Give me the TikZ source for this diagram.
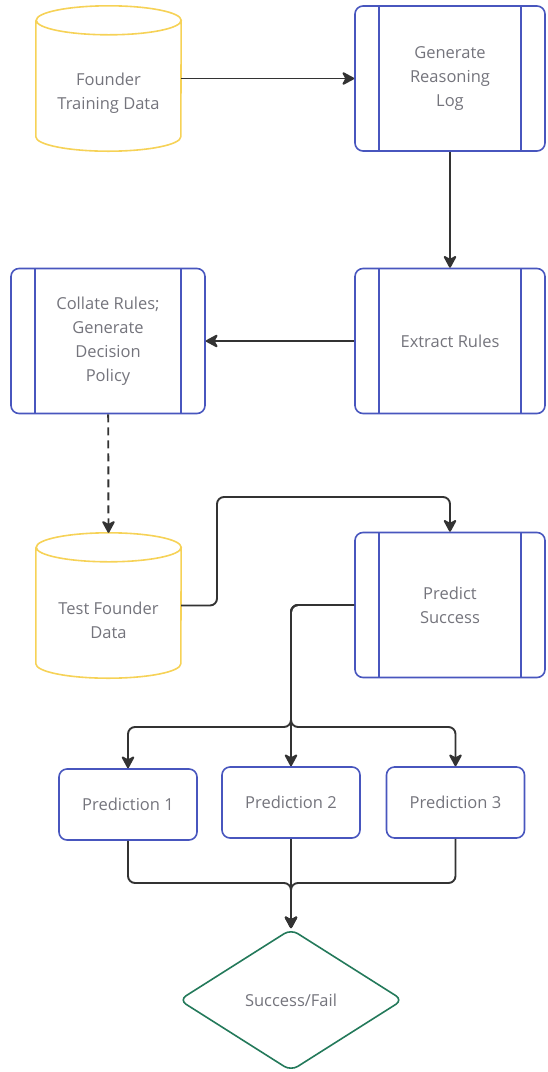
\documentclass[tikz,border=0pt]{standalone}
\usepackage{fontspec}
\setmainfont{Open Sans}
\usepackage{xcolor}
\usetikzlibrary{shapes.geometric,arrows.meta,positioning,calc}

\definecolor{procblue}{HTML}{4856BE}
\definecolor{datayellow}{HTML}{F6D257}
\definecolor{decgreen}{HTML}{23795A}
\definecolor{txtgray}{HTML}{74747C}
\definecolor{linegray}{HTML}{333333}

% cylinder outline round a storedata node
\newcommand{\storecyl}[1]{%
  \draw[datayellow, line width=1.6pt]
    ([yshift=-14.5pt]#1.north west) -- ([yshift=14.5pt]#1.south west)
    arc[start angle=180, end angle=360, x radius=72.5pt, y radius=14.5pt]
    -- ([yshift=-14.5pt]#1.north east)
    arc[start angle=0, end angle=360, x radius=72.5pt, y radius=14.5pt];}

\begin{document}
\begin{tikzpicture}[x=1pt, y=-1pt,
    every node/.style={font=\fontsize{16.5}{24}\selectfont, text=txtgray, align=center},
    procbox/.style={draw=procblue, line width=1.6pt, rounded corners=8pt,
        minimum width=190pt, minimum height=145pt, inner sep=0pt,
        path picture={
            \draw[procblue, line width=1.6pt]
                ([xshift=24pt]path picture bounding box.north west) -- ([xshift=24pt]path picture bounding box.south west)
                ([xshift=-24pt]path picture bounding box.north east) -- ([xshift=-24pt]path picture bounding box.south east);
        }},
    storedata/.style={rectangle, minimum width=145pt, minimum height=145pt, inner sep=0pt},
    datatext/.style={yshift=-15pt, align=center, text=txtgray},
    outbox/.style={draw=procblue, line width=1.6pt, rounded corners=8pt,
        minimum width=138pt, minimum height=71pt},
    decide/.style={diamond, draw=decgreen, line width=1.6pt, rounded corners=8pt,
        minimum width=224pt, minimum height=142pt, inner sep=0pt, aspect=1.6},
    flow/.style={draw=linegray, line width=1.9pt, rounded corners=7pt,
        -{Stealth[length=14pt, width=15pt, inset=4pt, round=false]}}]

    \useasboundingbox (0,0) rectangle (547,1072);

    % training side
    \node[storedata, label={[datatext]center:{Founder\\Training Data}}] (founderdata) at (108.5,78.5) {};
    \storecyl{founderdata}
    \node[procbox] (genlog) at (450,78.5) {Generate\\Reasoning\\Log};
    \node[procbox] (extract) at (450,341) {Extract Rules};
    \node[procbox, minimum width=194pt] (collate) at (108,341) {Collate Rules;\\Generate\\Decision\\Policy};

    % test side
    \node[storedata, label={[datatext]center:{Test Founder\\Data}}] (testdata) at (108.5,605.5) {};
    \storecyl{testdata}
    \node[procbox] (predict) at (450,605) {Predict\\Success};

    \node[outbox] (pred1) at (128,804.5) {Prediction 1};
    \node[outbox] (pred2) at (291,802.5) {Prediction 2};
    \node[outbox] (pred3) at (455.5,802.5) {Prediction 3};

    \node[decide] (outcome) at (291,1000) {Success/Fail};

    \coordinate (hop) at (217,497);
    \coordinate (split) at (291,727);
    \coordinate (merge) at (291,883);

    \draw[flow] (founderdata.east) -- (genlog.west);
    \draw[flow] (genlog) -- (extract);
    \draw[flow] (extract) -- (collate);
    \draw[flow, dash pattern=on 8pt off 5pt] (collate) -- (testdata.north);
    \draw[flow] (testdata.east) -| (hop) -| (predict.north);

    \draw[flow] (predict.west) -| (split) -| (pred1.north);
    \draw[flow] (predict.west) -| (split) -- (pred2.north);
    \draw[flow] (predict.west) -| (split) -| (pred3.north);

    \draw[flow] (pred1.south) |- (merge) -- (outcome.north);
    \draw[flow] (pred3.south) |- (merge) -- (outcome.north);
    \draw[flow] (pred2.south) -- (outcome.north);
\end{tikzpicture}
\end{document}
